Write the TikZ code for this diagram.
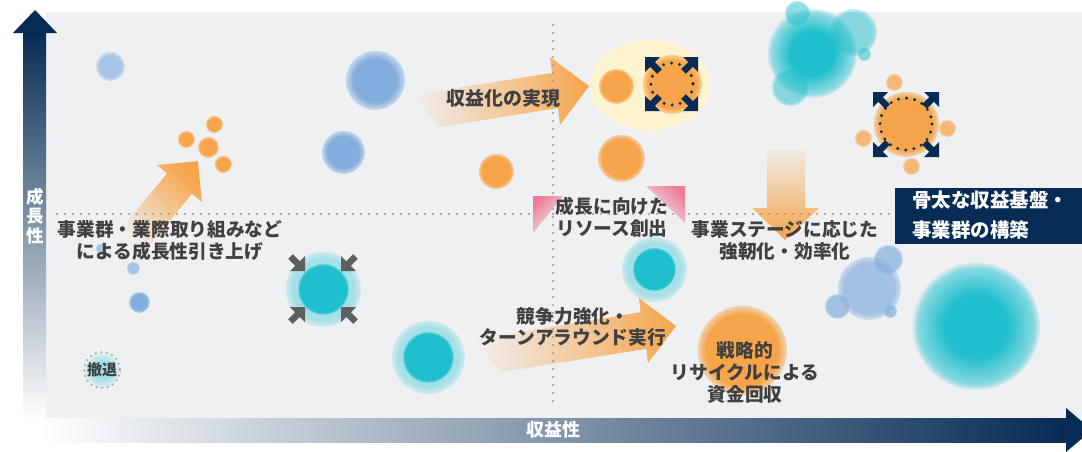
\documentclass[tikz,border=0pt]{standalone}
\usepackage{fontspec}
\newfontfamily\jp{Noto Sans CJK JP}
\usetikzlibrary{fadings}

\definecolor{bg}{HTML}{EFF0F2}
\definecolor{navy}{HTML}{062B55}
\definecolor{orng}{HTML}{F6A54B}
\definecolor{blu}{HTML}{84AEDD}
\definecolor{blul}{HTML}{A5C6E6}
\definecolor{tealc}{HTML}{20BFCD}
\definecolor{tealgl}{HTML}{A4E0E7}
\definecolor{txt}{HTML}{404040}
\definecolor{pinkc}{HTML}{EE7E96}
\definecolor{yel}{HTML}{FDF3CE}
\definecolor{dotg}{HTML}{9A9A9A}
\definecolor{arrg}{HTML}{5F5F5F}

\pgfdeclareradialshading{fshA}{\pgfpointorigin}{color(0bp)=(white); color(18bp)=(white); color(24.5bp)=(white!35!black); color(25bp)=(black); color(50bp)=(black)}
\pgfdeclarefading{fadeA}{\pgfuseshading{fshA}}
\pgfdeclareradialshading{fshB}{\pgfpointorigin}{color(0bp)=(white); color(20bp)=(white); color(24.5bp)=(white!40!black); color(25bp)=(black); color(50bp)=(black)}
\pgfdeclarefading{fadeB}{\pgfuseshading{fshB}}
\pgfdeclareradialshading{fshC}{\pgfpointorigin}{color(0bp)=(white); color(22.5bp)=(white); color(25bp)=(black); color(50bp)=(black)}
\pgfdeclarefading{fadeC}{\pgfuseshading{fshC}}
\pgfdeclareradialshading{fshD}{\pgfpointorigin}{color(0bp)=(white); color(12bp)=(white); color(25.5bp)=(black); color(50bp)=(black)}
\pgfdeclarefading{fadeD}{\pgfuseshading{fshD}}

\tikzset{
  lbl/.style={font=\jp\bfseries\fontsize{18.7}{22}\selectfont, text=txt, align=center, inner sep=0pt},
  dotline/.style={dotg, line width=2.4pt, line cap=round, dash pattern=on 0pt off 8pt},
  navydots/.style={navy, line width=3.2pt, line cap=round, dash pattern=on 0pt off 8.2pt},
  cornerarrow/.pic={\fill (0,0) -- (-15,0) -- (-9.76,5.24) -- (-16.76,12.24) -- (-12.24,16.76) -- (-5.24,9.76) -- (0,15) -- cycle;}
}

\begin{document}
\begin{tikzpicture}[x=1pt,y=-1pt]
\useasboundingbox (0,0) rectangle (1082,451);
\fill[white] (0,0) rectangle (1082,451);
\fill[bg] (46,12) rectangle (1082,418);

% yellow highlight
\fill[yel] (650,85) ellipse [x radius=60, y radius=45];

% blue circles
\foreach \x/\y/\r/\c in {110/66/15/blul, 375/80/30/blu, 343/152/22/blu, 100/248/5/blul, 133/268/7/blul, 139/302/11/blu}
  \fill[\c, path fading=fadeA] (\x,\y) circle (\r);
\foreach \x/\y/\r in {869/288/32, 888/259/15, 837/306/13, 890/311/7}
  \fill[blu, opacity=.7, path fading=fadeB] (\x,\y) circle (\r);

% orange circles
\foreach \x/\y/\r in {186/139/9, 214/124/9, 208/147/11, 223/164/9}
  \fill[orng, path fading=fadeA] (\x,\y) circle (\r);
\foreach \x/\y in {894/82, 947/128, 863/138, 911/166}
  \fill[orng, opacity=.75, path fading=fadeA] (\x,\y) circle (9);
\foreach \x/\y/\r in {496/171/18, 616/86/18, 672/84/30, 621/158/24, 906/124/33, 742/350/45}
  \fill[orng, path fading=fadeB] (\x,\y) circle (\r);

% teal circles
\foreach \x/\y/\R/\r in {323/289/38/26, 428/357/37/26, 654/269/33/22}{
  \fill[tealgl, path fading=fadeB] (\x,\y) circle (\R);
  \fill[tealc, path fading=fadeC] (\x,\y) circle (\r);
}
\fill[tealgl, path fading=fadeC] (976,326) circle (64);
\fill[tealc, path fading=fadeD] (976,326) circle (64);
\fill[tealgl, opacity=.8, path fading=fadeC] (812,53) circle (45);
\fill[tealc, path fading=fadeD] (812,53) circle (45);
\foreach \x/\y/\r in {797/13/13, 853/32/24, 864/54/7, 790/87/19}
  \fill[tealc, opacity=.5, path fading=fadeB] (\x,\y) circle (\r);

% withdrawal circle
\fill[tealgl, path fading=fadeD] (102,370) circle (19);
\draw[dotg, line width=2pt, line cap=round, dash pattern=on 0pt off 5.6pt] (102,370) circle (18);

% fat arrows
\shade[top color=orng, bottom color=orng!5!bg, shading angle=-45]
  (119.6,231.2) -- (167.1,173.3) -- (157.1,165.1) -- (197.9,161.1) -- (201.9,201.9) -- (191.9,193.7) -- (144.4,251.6) -- cycle;
\shade[left color=bg, right color=orng]
  (412,95) -- (552,73) -- (550,57) -- (589,86) -- (560,125) -- (558,108) -- (440,127) -- cycle;
\shade[top color=orng!8!bg, bottom color=orng]
  (767,150) -- (805,150) -- (805,208) -- (819,208) -- (785,240) -- (752,208) -- (767,208) -- cycle;
\shade[left color=bg, right color=orng]
  (472,340) -- (640.6,312.2) -- (639,298) -- (676,326) -- (648,363) -- (646.4,348.8) -- (502,372) -- cycle;

% dotted guide lines
\draw[dotline] (57,214) -- (892,214);
\draw[dotline] (553,25) -- (553,405);

% pink corner triangles
\shade[top color=pinkc, middle color=pinkc!30!bg, bottom color=bg, shading angle=45]
  (533,196) -- (563,196) -- (533,233) -- cycle;
\shade[top color=pinkc, middle color=pinkc!30!bg, bottom color=bg, shading angle=-45]
  (646,186) -- (685,186) -- (685,223) -- cycle;

% expansion markers
\draw[navydots] (672,84) circle (21);
\pic[color=navy] at (698,57) {cornerarrow};
\pic[color=navy, rotate=90] at (645,57) {cornerarrow};
\pic[color=navy, rotate=180] at (645,111) {cornerarrow};
\pic[color=navy, rotate=-90] at (698,111) {cornerarrow};
\draw[navydots] (906,124) circle (26);
\pic[color=navy] at (939,92) {cornerarrow};
\pic[color=navy, rotate=90] at (873,92) {cornerarrow};
\pic[color=navy, rotate=180] at (873,157) {cornerarrow};
\pic[color=navy, rotate=-90] at (939,157) {cornerarrow};
% contraction marker
\pic[color=arrg, rotate=-90] at (305,271) {cornerarrow};
\pic[color=arrg, rotate=180] at (341,271) {cornerarrow};
\pic[color=arrg] at (305,307) {cornerarrow};
\pic[color=arrg, rotate=90] at (341,307) {cornerarrow};

% labels
\node[lbl] (tA) at (170,240) {事業群・業際取り組みなど\\による成長性引き上げ};
\node[lbl, font=\jp\bfseries\fontsize{19}{22}\selectfont] (tB) at (503,98) {収益化の実現};
\node[lbl] (tC) at (612,217) {成長に向けた\\リソース創出};
\node[lbl] (tD) at (785,240) {事業ステージに応じた\\強靭化・効率化};
\node[lbl, font=\jp\bfseries\fontsize{18.7}{20.5}\selectfont] (tE) at (573,327) {競争力強化・\\ターンアラウンド実行};
\node[lbl] (tF) at (745,372) {戦略的\\リサイクルによる\\資金回収};
\node[font=\jp\bfseries\fontsize{15}{17}\selectfont, text=txt, inner sep=0pt] (tW) at (102,370) {撤退};

% highlight box
\fill[navy] (895,188) rectangle (1082,244);
\node[font=\jp\bfseries\fontsize{19.5}{30}\selectfont, text=white, align=left, anchor=west, inner sep=0pt] (tG) at (912,215) {骨太な収益基盤・\\事業群の構築};

% axes
\shade[top color=navy, bottom color=white] (23,32) rectangle (46,420);
\fill[navy] (13,33) -- (35,10) -- (57,33) -- cycle;
\shade[left color=white, right color=navy] (40,418) rectangle (1067,442);
\fill[navy] (1066,408) -- (1092,430) -- (1066,452) -- cycle;
\node[font=\jp\bfseries\fontsize{17.5}{19.5}\selectfont, text=white, align=center, inner sep=0pt] (tY) at (35,216) {成\\長\\性};
\node[font=\jp\bfseries\fontsize{18}{20}\selectfont, text=white, inner sep=0pt] (tX) at (553,430) {収益性};
\end{tikzpicture}
\end{document}
